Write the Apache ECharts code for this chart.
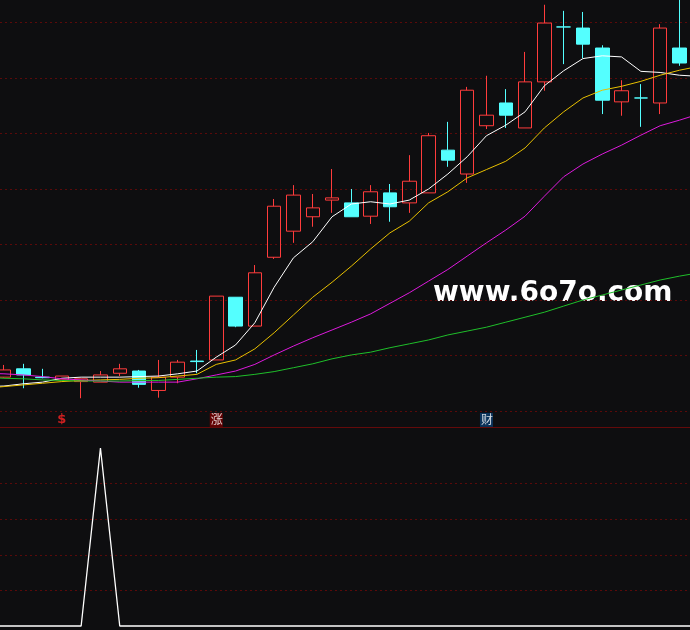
<!DOCTYPE html>
<html>
<head>
<meta charset="utf-8">
<script src="https://cdn.jsdelivr.net/npm/echarts@6/dist/echarts.min.js"></script>
<style>
html,body{margin:0;padding:0;background:#0e0e10;}
#main{width:690px;height:630px;}
</style>
</head>
<body>
<div id="main"></div>
<script>
// ---------- data ----------
var categories = ['d01','d02','d03','d04','d05','d06','d07','d08','d09','d10',
  'd11','d12','d13','d14','d15','d16','d17','d18','d19','d20',
  'd21','d22','d23','d24','d25','d26','d27','d28','d29','d30',
  'd31','d32','d33','d34','d35','d36','d37','d38'];

// [open, close, low, high]
var candles = ['-',
  [8.61, 8.74, 8.60, 8.83],
  [8.76, 8.65, 8.41, 8.85],
  [8.61, 8.60, 8.59, 8.76],
  [8.56, 8.63, 8.56, 8.63],
  [8.53, 8.58, 8.23, 8.58],
  [8.52, 8.65, 8.52, 8.72],
  [8.68, 8.76, 8.63, 8.85],
  [8.72, 8.48, 8.42, 8.74],
  [8.37, 8.61, 8.24, 8.92],
  [8.61, 8.88, 8.50, 8.92],
  [8.90, 8.89, 8.68, 9.10],
  [8.92, 10.07, 8.92, 10.07],
  [10.05, 9.53, 9.51, 10.05],
  [9.53, 10.49, 9.53, 10.63],
  [10.77, 11.69, 10.74, 11.82],
  [11.24, 11.89, 11.03, 12.07],
  [11.50, 11.66, 11.32, 11.91],
  [11.80, 11.84, 11.57, 12.36],
  [11.75, 11.50, 11.50, 12.00],
  [11.51, 11.95, 11.37, 12.07],
  [11.93, 11.68, 11.41, 12.09],
  [11.75, 12.14, 11.57, 12.61],
  [11.93, 12.96, 11.93, 13.01],
  [12.70, 12.52, 12.40, 13.21],
  [12.27, 13.78, 12.11, 13.84],
  [13.14, 13.33, 13.08, 14.04],
  [13.55, 13.33, 13.10, 13.80],
  [13.10, 13.93, 13.10, 14.47],
  [13.93, 14.99, 13.77, 15.32],
  [14.92, 14.92, 14.25, 15.21],
  [14.90, 14.61, 14.36, 15.19],
  [14.54, 13.60, 13.35, 14.59],
  [13.57, 13.77, 13.32, 13.96],
  [13.64, 13.64, 13.12, 13.89],
  [13.55, 14.90, 13.35, 14.97],
  [14.54, 14.27, 14.22, 15.46],
  '-'];

var ma5  = [8.44,8.45,8.49,8.52,8.59,8.61,8.61,8.61,8.62,8.63,8.67,8.72,8.97,9.19,9.59,10.23,10.76,11.05,11.50,11.73,11.77,11.73,11.80,12.00,12.27,12.58,12.96,13.15,13.39,13.86,14.13,14.35,14.40,14.38,14.12,14.10,14.05,14.03];
var ma10 = [8.41,8.44,8.47,8.50,8.53,8.55,8.56,8.57,8.59,8.60,8.63,8.66,8.84,8.92,9.12,9.41,9.73,10.05,10.32,10.61,10.92,11.21,11.42,11.75,11.95,12.20,12.35,12.50,12.74,13.10,13.39,13.64,13.78,13.85,13.94,14.05,14.14,14.21];
var ma30 = [8.68,8.67,8.65,8.62,8.58,8.56,8.54,8.52,8.52,8.52,8.52,8.58,8.65,8.72,8.84,9.01,9.17,9.32,9.46,9.60,9.75,9.94,10.13,10.34,10.55,10.79,11.03,11.26,11.51,11.87,12.22,12.45,12.63,12.79,12.97,13.14,13.24,13.35];
var ma60 = [8.61,8.59,8.58,8.56,8.55,8.54,8.54,8.54,8.55,8.55,8.57,8.59,8.61,8.62,8.66,8.71,8.78,8.85,8.94,9.01,9.06,9.14,9.21,9.28,9.37,9.44,9.51,9.60,9.69,9.78,9.89,10.00,10.09,10.18,10.27,10.36,10.43,10.49];

var lowerVals = [0,0,0,0,0,0,5,0,0,0,0,0,0,0,0,0,0,0,0,0,0,0,0,0,0,0,0,0,0,0,0,0,0,0,0,0,0,0];

var signalCats = ['d05','d13','d27'];
var signalText = ['$','涨','财'];
var signalLevel = 7.84;

var priceTicks = {min: 8, max: 15, step: 1};
var lowerTicks = {min: 0, max: 5, step: 1};

// ---------- styles ----------
var UP = '#ff3c3c', DOWN = '#54ffff', GRIDC = '#5a0a0a';
var signalStyle = {
  '$': {color: '#ff2424', fontSize: 13, fontWeight: 'bold', fontFamily: 'DejaVu Sans'},
  '涨': {color: '#ffffff', backgroundColor: '#7a0000', fontSize: 12, padding: [1, 0, 0, 1], fontFamily: 'Noto Sans CJK SC', lineHeight: 13},
  '财': {color: '#ffffff', backgroundColor: '#0b3d6e', fontSize: 12, padding: [1, 0, 0, 1], fontFamily: 'Noto Sans CJK SC', lineHeight: 13}
};

var chart = echarts.init(document.getElementById('main'), null, {renderer: 'canvas'});

function maSeries(data, color) {
  return {
    type: 'line', data: data, xAxisIndex: 0, yAxisIndex: 0,
    showSymbol: false, symbol: 'none', clip: false, z: 3,
    lineStyle: {color: color, width: 1}, silent: true
  };
}

var gridDefs = {left: -25, width: 733.4};

var option = {
  backgroundColor: '#0e0e10',
  animation: false,
  grid: [
    {left: gridDefs.left, width: gridDefs.width, top: 22.5, height: 388.5, outerBoundsMode: 'none'},
    {left: gridDefs.left, width: gridDefs.width, top: 448, height: 178, outerBoundsMode: 'none'}
  ],
  xAxis: [
    {type: 'category', gridIndex: 0, data: categories, boundaryGap: true, offset: 16,
     axisLine: {show: true, lineStyle: {color: '#640a0a', width: 1}},
     axisTick: {show: false}, axisLabel: {show: false}, splitLine: {show: false}},
    {type: 'category', gridIndex: 1, data: categories, boundaryGap: true,
     axisLine: {show: false}, axisTick: {show: false}, axisLabel: {show: false}, splitLine: {show: false}}
  ],
  yAxis: [
    {type: 'value', gridIndex: 0, min: priceTicks.min, max: priceTicks.max, interval: priceTicks.step, scale: true,
     axisLine: {show: false}, axisTick: {show: false}, axisLabel: {show: false},
     splitLine: {show: true, showMinLine: true, showMaxLine: true, lineStyle: {color: GRIDC, type: [2, 3], width: 1}}},
    {type: 'value', gridIndex: 1, min: lowerTicks.min, max: lowerTicks.max, interval: lowerTicks.step,
     axisLine: {show: false}, axisTick: {show: false}, axisLabel: {show: false},
     splitLine: {show: true, showMinLine: false, showMaxLine: false, lineStyle: {color: GRIDC, type: [2, 3], width: 1}}}
  ],
  series: [
    {
      type: 'candlestick', data: candles, xAxisIndex: 0, yAxisIndex: 0,
      barWidth: 14, clip: false, z: 2, silent: true,
      itemStyle: {color: 'transparent', color0: DOWN, borderColor: UP, borderColor0: DOWN,
                  borderColorDoji: DOWN, borderWidth: 1}
    },
    maSeries(ma5, '#ffffff'),
    maSeries(ma10, '#e8c000'),
    maSeries(ma30, '#dd1add'),
    maSeries(ma60, '#1fbf2a'),
    {
      type: 'scatter', xAxisIndex: 0, yAxisIndex: 0, symbolSize: 1, clip: false, z: 5, silent: true,
      itemStyle: {color: 'rgba(0,0,0,0)'},
      data: signalCats.map(function (c, i) {
        var st = signalStyle[signalText[i]];
        return {value: [c, signalLevel],
          label: Object.assign({show: true, position: 'inside', formatter: signalText[i]}, st)};
      })
    },
    {
      type: 'line', data: lowerVals, xAxisIndex: 1, yAxisIndex: 1,
      showSymbol: false, symbol: 'none', clip: false, silent: true,
      lineStyle: {color: '#ffffff', width: 1.3}
    }
  ],
  graphic: [
    {type: 'text', left: 433, top: 280, silent: true,
     style: {text: 'www.6o7o.com', fill: '#ffffff', font: 'bold 28px "DejaVu Sans"'}}
  ]
};
chart.setOption(option);
</script>
</body>
</html>
